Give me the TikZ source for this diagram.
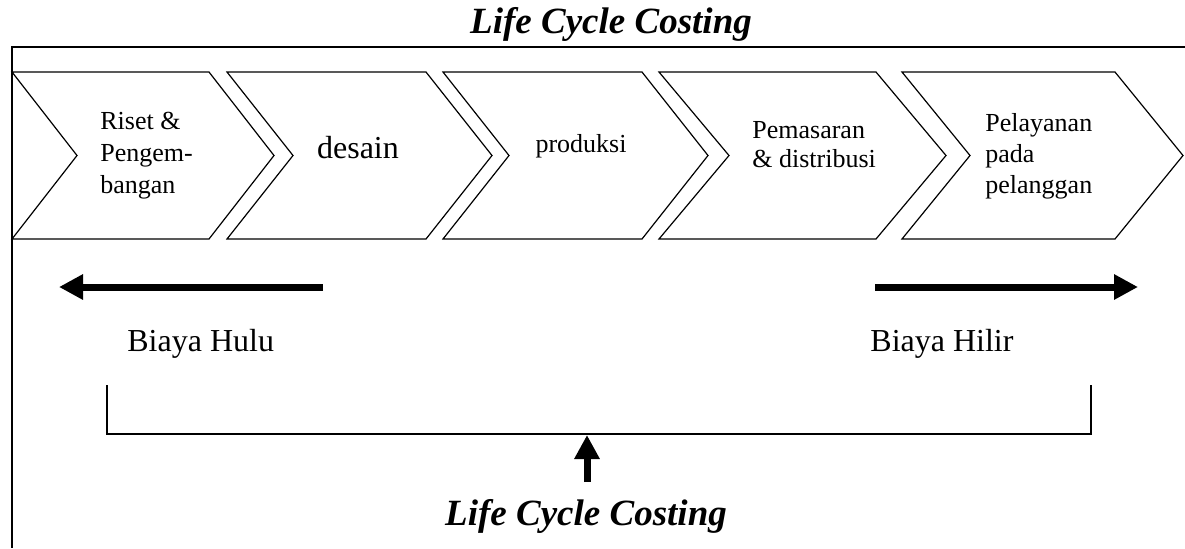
\documentclass[tikz,border=0pt]{standalone}
\usepackage{fontspec}
\setmainfont{Liberation Serif}
\usetikzlibrary{arrows.meta, positioning}

\begin{document}
\begin{tikzpicture}[
    x=0.5pt, y=-0.5pt,
    chev/.style={draw, line width=0.6pt, line join=miter},
    frame/.style={draw, line width=0.8pt},
    lbl/.style={inner sep=0pt, align=left, font=\fontsize{13pt}{15pt}\selectfont},
    big/.style={inner sep=0pt, font=\fontsize{16pt}{18pt}\selectfont},
    heading/.style={inner sep=0pt, font=\fontsize{18.5pt}{22pt}\selectfont\bfseries\itshape},
    fat/.style={draw, line width=3.5pt, -{Triangle[length=12pt, width=12pt]}}
]
    \useasboundingbox (0,0) rectangle (1185,548);

    % Frame
    \draw[frame] (1185,47) -- (12,47) -- (12,548);
    \node[heading, anchor=base] (title) at (611,33) {Life Cycle Costing};

    % Value chain
    \foreach \a/\b/\d in {12/209/65, 227/426/66, 443/642/66, 659/876/70, 902/1115/68}
        \draw[chev] (\a,72) -- (\b,72) -- ({\b+\d},155.5) -- (\b,239) -- (\a,239) -- ({\a+\d},155.5) -- cycle;

    \node[lbl, anchor=base west, font=\fontsize{13pt}{16pt}\selectfont] (riset) at (100,193) {Riset \&\\Pengem-\\bangan};
    \node[big, anchor=base] (desain) at (358,158) {desain};
    \node[lbl, anchor=base] (produksi) at (581,152) {produksi};
    \node[lbl, anchor=base west, font=\fontsize{13pt}{14.5pt}\selectfont] (pemasaran) at (752,167) {Pemasaran\\\& distribusi};
    \node[lbl, anchor=base west, font=\fontsize{13pt}{15.5pt}\selectfont] (pelayanan) at (985,193) {Pelayanan\\pada\\pelanggan};

    % Costs
    \coordinate (hulu-s) at (323,287);
    \coordinate (hulu-e) at (59,287);
    \coordinate (hilir-s) at (875,287);
    \coordinate (hilir-e) at (1138,287);
    \draw[fat] (hulu-s) -- (hulu-e);
    \draw[fat] (hilir-s) -- (hilir-e);
    \node[big, anchor=base west] (hulu) at (127,351) {Biaya Hulu};
    \node[big, anchor=base west] (hilir) at (870,351) {Biaya Hilir};

    % Bracket
    \coordinate (br-l) at (107,385);
    \coordinate (br-r) at (1091,385);
    \draw[chev] (br-l) -- (107,434) -- (1091,434) -- (br-r);

    \node[heading, anchor=base] (lcc) at (586,525) {Life Cycle Costing};
    \coordinate (up-s) at (587,482);
    \coordinate (up-e) at (587,435);
    \draw[fat] (up-s) -- (up-e);
\end{tikzpicture}
\end{document}
